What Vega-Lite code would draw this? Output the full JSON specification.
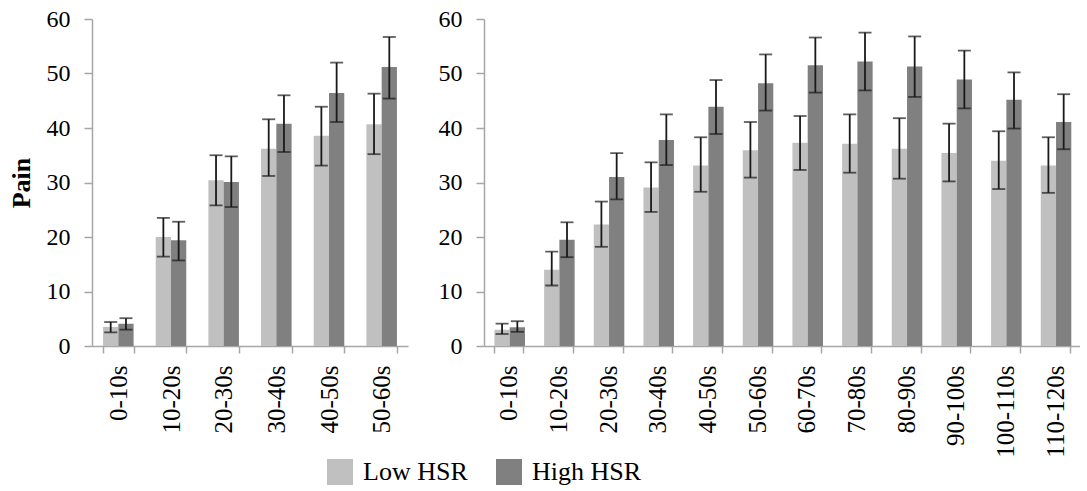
{
  "$schema": "https://vega.github.io/schema/vega-lite/v6.json",
  "padding": {"left": 8, "top": 7, "right": 0, "bottom": 0},
  "datasets": {
    "first": [
      {"interval": "0-10s", "group": "Low HSR", "value": 3.5, "low": 2.5, "high": 4.4},
      {"interval": "0-10s", "group": "High HSR", "value": 4.1, "low": 3.0, "high": 5.1},
      {"interval": "10-20s", "group": "Low HSR", "value": 20.0, "low": 16.4, "high": 23.5},
      {"interval": "10-20s", "group": "High HSR", "value": 19.4, "low": 15.7, "high": 22.8},
      {"interval": "20-30s", "group": "Low HSR", "value": 30.4, "low": 25.8, "high": 35.0},
      {"interval": "20-30s", "group": "High HSR", "value": 30.1, "low": 25.5, "high": 34.8},
      {"interval": "30-40s", "group": "Low HSR", "value": 36.2, "low": 31.2, "high": 41.6},
      {"interval": "30-40s", "group": "High HSR", "value": 40.8, "low": 35.6, "high": 46.0},
      {"interval": "40-50s", "group": "Low HSR", "value": 38.6, "low": 33.1, "high": 43.9},
      {"interval": "40-50s", "group": "High HSR", "value": 46.4, "low": 41.1, "high": 52.0},
      {"interval": "50-60s", "group": "Low HSR", "value": 40.7, "low": 35.2, "high": 46.3},
      {"interval": "50-60s", "group": "High HSR", "value": 51.2, "low": 45.4, "high": 56.7}
    ],
    "second": [
      {"interval": "0-10s", "group": "Low HSR", "value": 3.0, "low": 2.2, "high": 4.1},
      {"interval": "0-10s", "group": "High HSR", "value": 3.45, "low": 2.6, "high": 4.55},
      {"interval": "10-20s", "group": "Low HSR", "value": 14.0, "low": 11.1, "high": 17.3},
      {"interval": "10-20s", "group": "High HSR", "value": 19.5, "low": 16.3, "high": 22.7},
      {"interval": "20-30s", "group": "Low HSR", "value": 22.3, "low": 18.2, "high": 26.5},
      {"interval": "20-30s", "group": "High HSR", "value": 31.0, "low": 26.9, "high": 35.4},
      {"interval": "30-40s", "group": "Low HSR", "value": 29.1, "low": 24.6, "high": 33.7},
      {"interval": "30-40s", "group": "High HSR", "value": 37.8, "low": 33.2, "high": 42.5},
      {"interval": "40-50s", "group": "Low HSR", "value": 33.1, "low": 28.3, "high": 38.3},
      {"interval": "40-50s", "group": "High HSR", "value": 43.9, "low": 38.9, "high": 48.8},
      {"interval": "50-60s", "group": "Low HSR", "value": 35.9, "low": 30.9, "high": 41.1},
      {"interval": "50-60s", "group": "High HSR", "value": 48.2, "low": 43.2, "high": 53.5},
      {"interval": "60-70s", "group": "Low HSR", "value": 37.3, "low": 32.3, "high": 42.2},
      {"interval": "60-70s", "group": "High HSR", "value": 51.5, "low": 46.5, "high": 56.6},
      {"interval": "70-80s", "group": "Low HSR", "value": 37.1, "low": 31.8, "high": 42.5},
      {"interval": "70-80s", "group": "High HSR", "value": 52.2, "low": 46.9, "high": 57.5},
      {"interval": "80-90s", "group": "Low HSR", "value": 36.2, "low": 30.7, "high": 41.8},
      {"interval": "80-90s", "group": "High HSR", "value": 51.3, "low": 45.7, "high": 56.8},
      {"interval": "90-100s", "group": "Low HSR", "value": 35.4, "low": 30.2, "high": 40.8},
      {"interval": "90-100s", "group": "High HSR", "value": 48.9, "low": 43.6, "high": 54.2},
      {"interval": "100-110s", "group": "Low HSR", "value": 34.0, "low": 28.8, "high": 39.4},
      {"interval": "100-110s", "group": "High HSR", "value": 45.2, "low": 39.9, "high": 50.2},
      {"interval": "110-120s", "group": "Low HSR", "value": 33.1, "low": 28.1, "high": 38.3},
      {"interval": "110-120s", "group": "High HSR", "value": 41.1, "low": 36.1, "high": 46.2}
    ]
  },
  "spacing": 30,
  "hconcat": [
    {
      "width": 316,
      "height": 327,
      "data": {"name": "first"},
      "encoding": {
        "x": {"field": "interval", "type": "nominal", "sort": null, "title": null,
              "scale": {"paddingInner": 0.42, "paddingOuter": 0.21}},
        "xOffset": {"field": "group", "type": "nominal", "sort": ["Low HSR", "High HSR"],
                    "scale": {"paddingInner": 0, "paddingOuter": 0}}
      },
      "layer": [
        {
          "mark": {"type": "bar"},
          "encoding": {
            "y": {"field": "value", "type": "quantitative", "title": "Pain",
                  "scale": {"domain": [0, 60], "nice": false},
                  "axis": {"values": [0, 10, 20, 30, 40, 50, 60]}},
            "color": {"field": "group", "type": "nominal", "title": null,
                      "sort": ["Low HSR", "High HSR"],
                      "scale": {"domain": ["Low HSR", "High HSR"], "range": ["#c0c0c0", "#808080"]}}
          }
        },
        {
          "mark": {"type": "rule", "color": "#1a1a1a", "strokeWidth": 1.8},
          "encoding": {
            "y": {"field": "low", "type": "quantitative", "title": "Pain"},
            "y2": {"field": "high"}
          }
        },
        {
          "mark": {"type": "tick", "color": "#1a1a1a", "thickness": 1.8, "size": 13},
          "encoding": {"y": {"field": "low", "type": "quantitative", "title": "Pain"}}
        },
        {
          "mark": {"type": "tick", "color": "#1a1a1a", "thickness": 1.8, "size": 13},
          "encoding": {"y": {"field": "high", "type": "quantitative", "title": "Pain"}}
        }
      ]
    },
    {
      "width": 596,
      "height": 327,
      "data": {"name": "second"},
      "encoding": {
        "x": {"field": "interval", "type": "nominal", "sort": null, "title": null,
              "scale": {"paddingInner": 0.42, "paddingOuter": 0.21}},
        "xOffset": {"field": "group", "type": "nominal", "sort": ["Low HSR", "High HSR"],
                    "scale": {"paddingInner": 0, "paddingOuter": 0}}
      },
      "layer": [
        {
          "mark": {"type": "bar"},
          "encoding": {
            "y": {"field": "value", "type": "quantitative", "title": null,
                  "scale": {"domain": [0, 60], "nice": false},
                  "axis": {"values": [0, 10, 20, 30, 40, 50, 60]}},
            "color": {"field": "group", "type": "nominal", "title": null,
                      "sort": ["Low HSR", "High HSR"],
                      "scale": {"domain": ["Low HSR", "High HSR"], "range": ["#c0c0c0", "#808080"]}}
          }
        },
        {
          "mark": {"type": "rule", "color": "#1a1a1a", "strokeWidth": 1.8},
          "encoding": {
            "y": {"field": "low", "type": "quantitative", "title": null},
            "y2": {"field": "high"}
          }
        },
        {
          "mark": {"type": "tick", "color": "#1a1a1a", "thickness": 1.8, "size": 13},
          "encoding": {"y": {"field": "low", "type": "quantitative", "title": null}}
        },
        {
          "mark": {"type": "tick", "color": "#1a1a1a", "thickness": 1.8, "size": 13},
          "encoding": {"y": {"field": "high", "type": "quantitative", "title": null}}
        }
      ]
    }
  ],
  "config": {
    "view": {"stroke": null},
    "axis": {
      "grid": false,
      "domainColor": "#a6a6a6",
      "tickColor": "#a6a6a6",
      "domainWidth": 1.5,
      "tickWidth": 1.5,
      "labelColor": "#000000",
      "titleColor": "#000000",
      "labelFont": "Liberation Serif, Times New Roman, serif",
      "titleFont": "Liberation Serif, Times New Roman, serif"
    },
    "axisY": {
      "tickSize": 8,
      "labelPadding": 14,
      "labelFontSize": 24,
      "titleFontSize": 26,
      "titleFontWeight": "bold",
      "titlePadding": 12
    },
    "axisX": {
      "tickSize": 7,
      "labelPadding": 12,
      "labelFontSize": 25,
      "labelAngle": -90,
      "tickBand": "extent"
    },
    "legend": {
      "orient": "none",
      "legendX": 235,
      "legendY": 440,
      "direction": "horizontal",
      "symbolType": "square",
      "symbolSize": 676,
      "symbolStrokeWidth": 0,
      "labelFont": "Liberation Serif, Times New Roman, serif",
      "labelFontSize": 26,
      "labelColor": "#000000",
      "labelOffset": 10,
      "columnPadding": 28,
      "padding": 0
    }
  }
}
